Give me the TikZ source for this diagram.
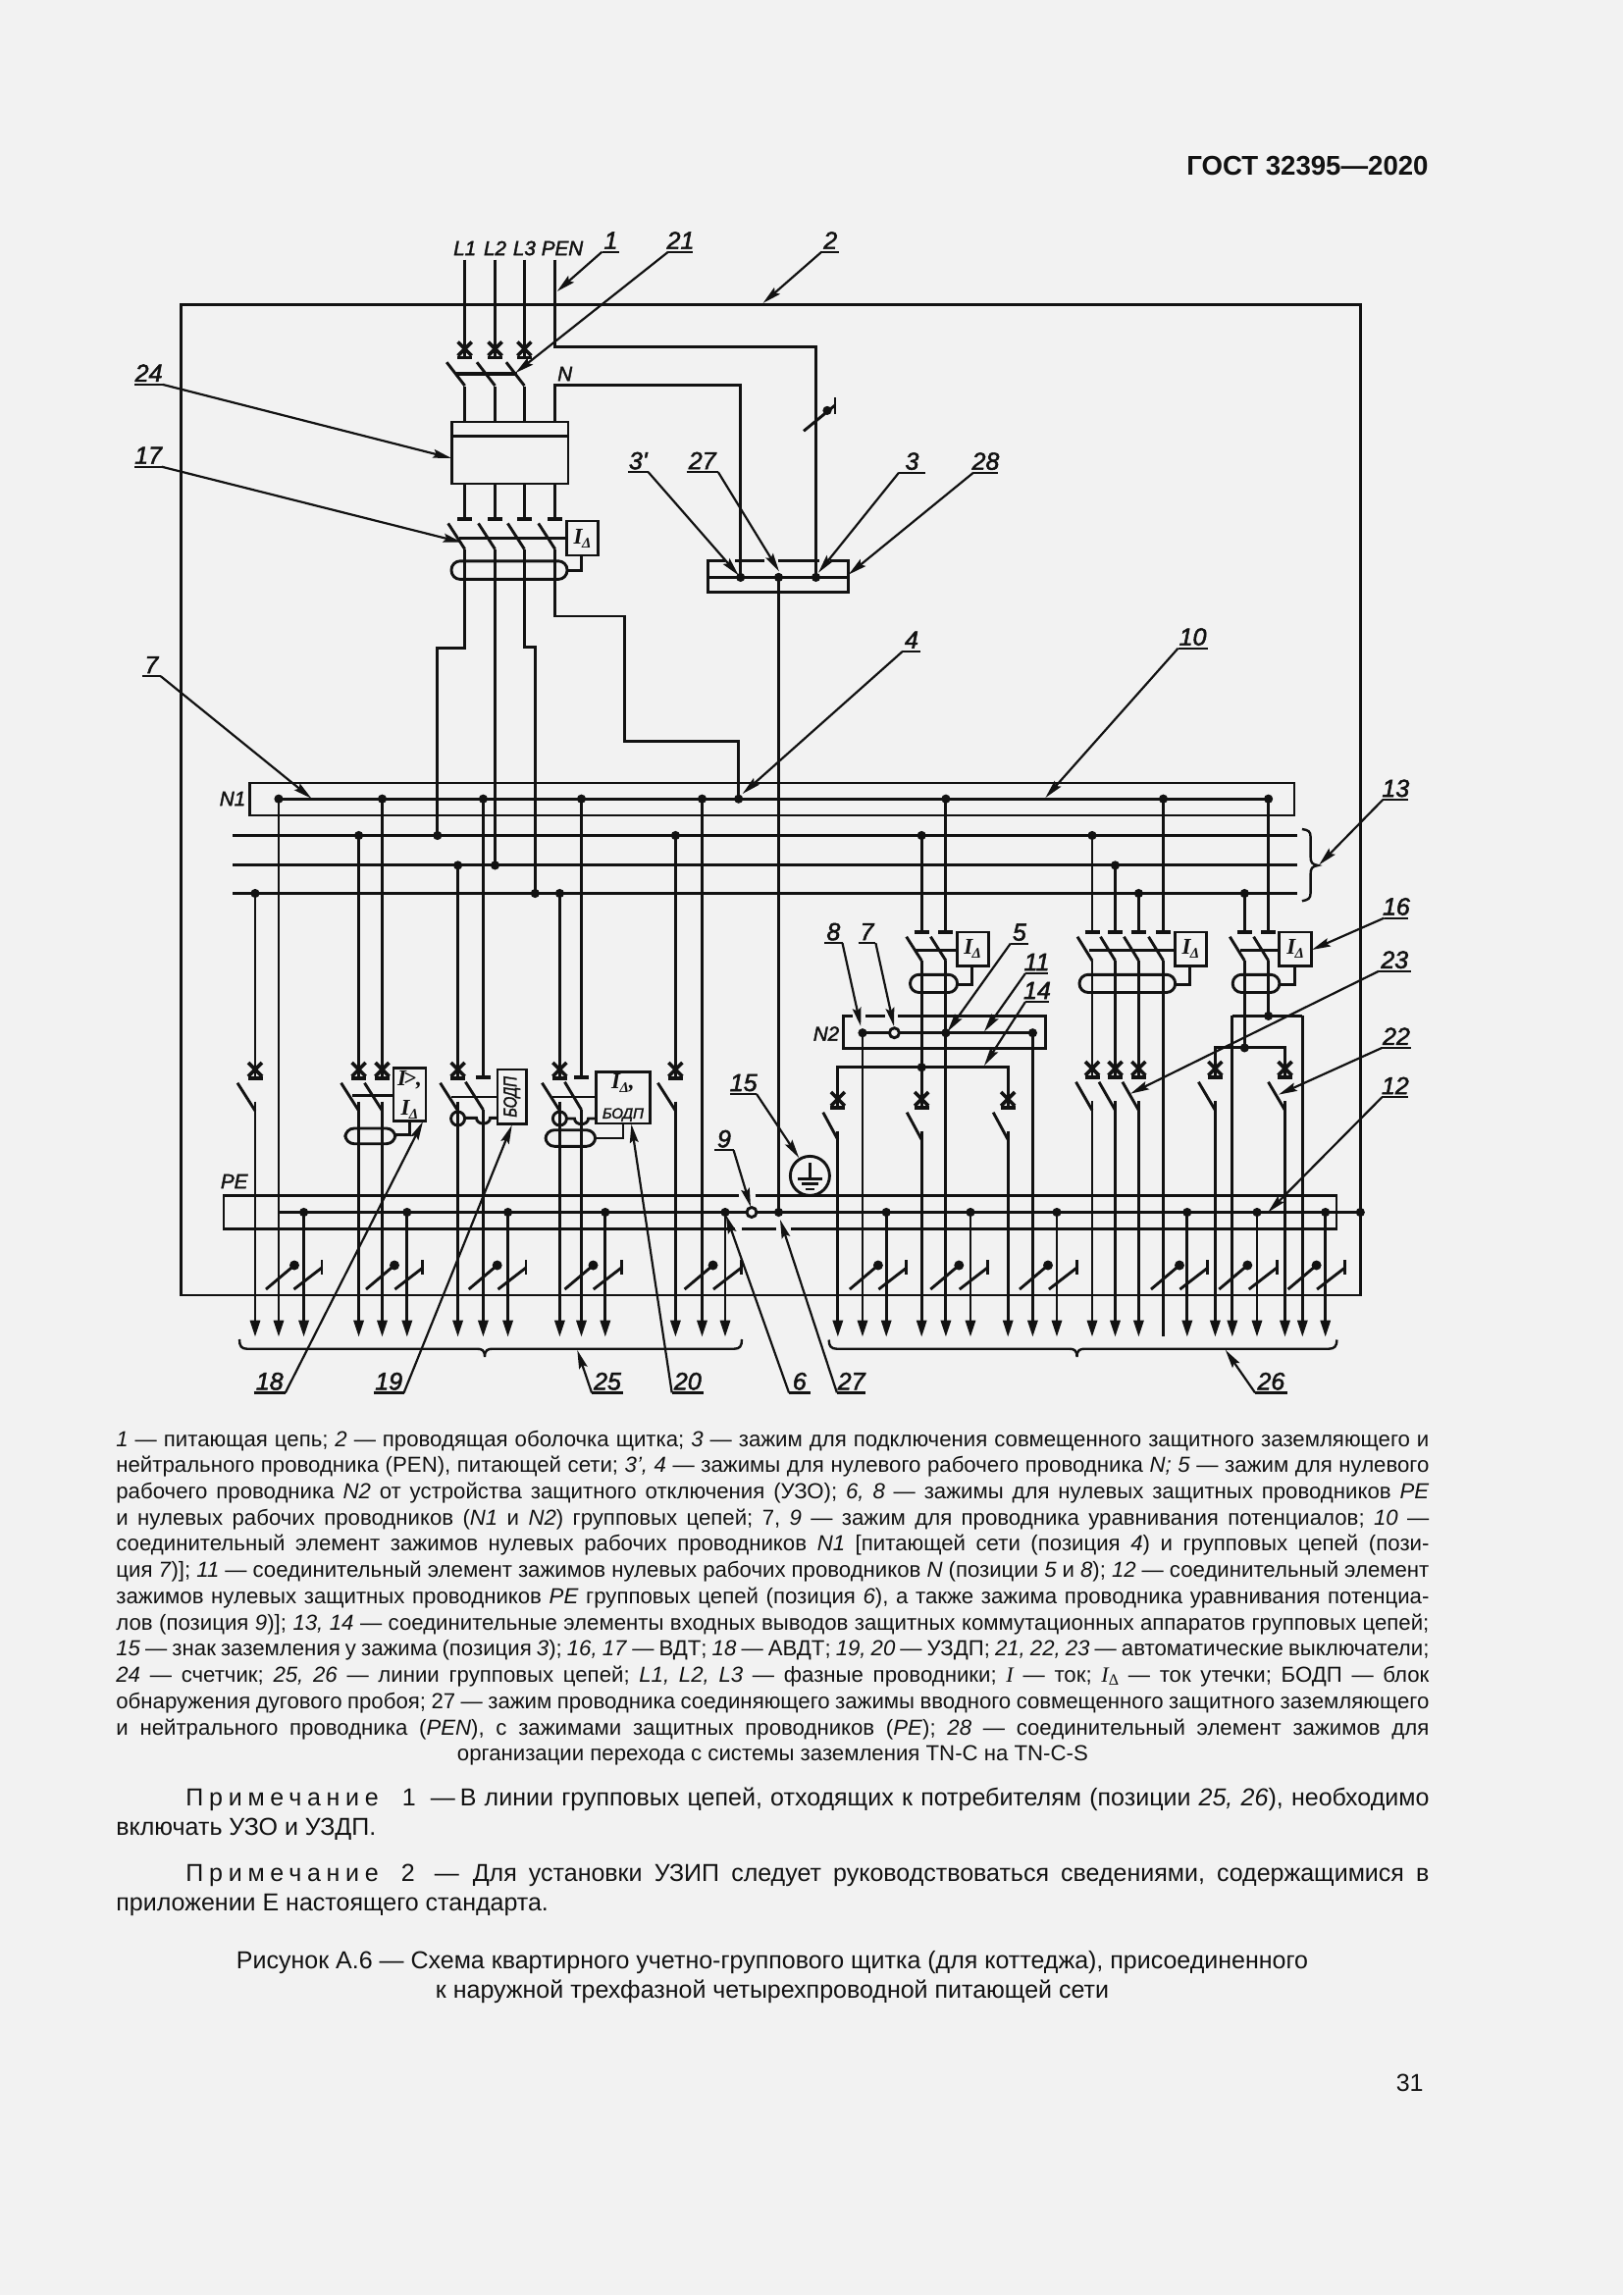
\documentclass[tikz,border=0pt]{standalone}
\usepackage{fontspec}
\usepackage{graphicx}
\usetikzlibrary{arrows.meta}
\setmainfont{Liberation Sans}
\newfontfamily\labbase[FakeBold=2]{Liberation Sans}
\newfontfamily\serfam{Liberation Serif}
\newcommand\labf{\labbase\itshape}
\definecolor{ink}{HTML}{121212}
\definecolor{paper}{HTML}{F2F2F2}
\newlength\tw \setlength\tw{669pt}
\newcommand\jl[1]{\hbox to \tw{\frenchspacing\spaceskip=0pt plus 1fil\xspaceskip=0pt plus 1fil #1}}
\newcommand\ti[1]{\textit{#1}}
\def\ytip{1362.7}
\tikzset{
 wire/.style={line width=1.45pt,color=ink},
 heavy/.style={line width=1.8pt,color=ink},
 leadline/.style={line width=1.1pt,color=ink},
 tipdown/.style={-{Triangle[length=8.5pt,width=5pt]}},
 leadtip/.style={-{Stealth[length=9.5pt,width=4.4pt,inset=1.5pt]}},
 numlab/.style={inner sep=0pt,anchor=base,font=\fontsize{12.5}{13}\labf,text=ink},
 wlab/.style={inner sep=0pt,font=\fontsize{10.3}{11}\labf,text=ink},
 devbox/.style={draw=ink,line width=1.45pt,inner sep=0pt,fill=paper,text=ink,align=center},
}
\newcommand\wdot[2]{\fill[ink] (#1,#2) circle[radius=4.6];}
\newcommand\tblade[4]{\draw[heavy] (#1-7.5,#2)--(#1+7.5,#2);\draw[wire] (#1-#4,#2+4.7)--(#1,#2+#3);}
\newcommand\cross[2]{\draw[heavy] (#1-7,#2-7)--(#1+7,#2+7);\draw[heavy] (#1+7,#2-7)--(#1-7,#2+7);}
\newcommand\xblade[4]{\cross{#1}{#2}\tblade{#1}{#2+9}{#3}{#4}}
\newcommand\wv[3]{\draw[wire] (#1,#2)--(#1,#3);}
\newcommand\wa[2]{\draw[wire,tipdown] (#1,#2)--(#1,\ytip);}
\newcommand\torus[4]{\draw[wire,rounded corners=4.5pt] (#1,#2) rectangle (#3,#4);}
\newcommand\pairmark[2]{%
 \draw[wire] (#1,1314)--(#1+29,1289.5);\fill[ink] (#1+29,1289.5) circle[radius=5];
 \draw[wire] (#2,1314)--(#2+28.5,1292);\draw[wire] (#2+28.5,1284)--(#2+28.5,1299);}
\newcommand\leader[8]{%
 \draw[leadline] (#3,#5)--(#4,#5);
 \draw[leadline,leadtip] (#6,#5)--(#7,#8);
 \node[numlab] (lab#1) at ({(#3+#4)/2},#5-3) {#2};}
\newcommand\dev[6]{\node[devbox,minimum width={(#4-#2)*0.5pt},minimum height={(#5-#3)*0.5pt}] (#1) at ({(#2+#4)/2},{(#3+#5)/2}) {#6};}
\newcommand\subdelta[1]{\lower2pt\hbox{\fontsize{#1}{#1}\serfam\bfseries Δ}}
\newcommand\idelta{\hbox{\fontsize{11.5}{11.5}\serfam\bfseries\itshape I\kern-0.3pt\subdelta{7.5}}}
\begin{document}
\begin{tikzpicture}[x=0.5pt,y=-0.5pt,line cap=butt,line join=miter]
\fill[paper] (0,0) rectangle (1654,2339);
\useasboundingbox (0,0) rectangle (1654,2339);
\node[inner sep=0pt,anchor=base east,text=ink,font=\fontsize{13.8}{14}\selectfont\bfseries] (hdr) at (1456,178) {ГОСТ 32395—2020};
\draw[wire] (184.5,310.4) rectangle (1386.3,1320);
\foreach \x/\t in {473.7/L1,504.5/L2,534.4/L3}{
 \node[wlab] (in\t) at (\x,253) {\t};
 \wv{\x}{264.6}{364}
 \xblade{\x}{355.5}{28.6}{18.5}
 \wv{\x}{394}{430}
}
\node[wlab] (inPEN) at (573,253) {PEN};
\draw[wire] (565.7,264.6)--(565.7,353.5)--(831.3,353.5)--(831.3,588.4);
\draw[heavy,line width=2.2pt] (464.7,380.8)--(527,380.8);
\node[wlab] (lN) at (575.7,381) {N};
\draw[wire] (565.7,430)--(565.7,392.7)--(754.7,392.7)--(754.7,588.4);
\draw[wire] (819,439.3)--(851,413);\draw[wire] (851,405)--(851,422);\wdot{843}{418.4}
\dev{meter}{460.2}{430}{579}{493}{}
\draw[wire] (meter.west |- 0,444.5)--(meter.east |- 0,444.5);
\foreach \x in {473.7,504.5,534.4,565.7}{\wv{\x}{493}{528.7}\tblade{\x}{528.7}{31}{17}}
\dev{rcdm}{577.6}{531}{609.5}{566}{\idelta}
\draw[wire] (468,548.5)--(rcdm.west |- 0,548.5);
\torus{460}{571.8}{578}{590.4}
\draw[wire] (592.6,566)--(592.6,581.7)--(578,581.7);
\draw[wire] (473.7,559.7)--(473.7,660.8)--(445.8,660.8)--(445.8,851.5);
\draw[wire] (504.5,559.7)--(504.5,881.9);
\draw[wire] (534.4,559.7)--(534.4,659.6)--(545.3,659.6)--(545.3,910.5);
\draw[wire] (565.7,559.7)--(565.7,628)--(636.4,628)--(636.4,755.7)--(752.7,755.7)--(752.7,813.8);
\draw[wire] (739.3,571.8)--(721.4,571.8)--(721.4,603.8)--(864.7,603.8)--(864.7,571.8)--(846.3,571.8);
\draw[wire] (749.3,571.8)--(779.1,571.8);\draw[wire] (792.6,571.8)--(834.8,571.8);
\draw[wire] (721.4,588.4)--(864.7,588.4);
\foreach \x in {754.7,793.5,831.5}{\wdot{\x}{588.4}}
\wv{793.5}{588.4}{1235.5}
\draw[wire] (254.3,798) rectangle (1319,831);
\node[wlab] (lN1) at (237,814) {N1};
\draw[wire] (284,814.2)--(1292.6,814.2);
\foreach \x in {284,389.5,492.4,592.5,715.5,752.7,963.9,1185.5,1292.6}{\wdot{\x}{814.2}}
\foreach \y in {851.5,881.9,910.5}{\draw[wire] (237,\y)--(1321.7,\y);}
\foreach \x in {365.6,445.8,688.4,939.2,1113}{\wdot{\x}{851.5}}
\foreach \x in {466.6,504.5,1136.5}{\wdot{\x}{881.9}}
\foreach \x in {260,545.3,570.4,1160.4,1268.3}{\wdot{\x}{910.5}}
\draw[wire,line width=1.2pt] (1326.9,845)..controls (1333,846) and (1335.6,847)..(1335.6,853)--(1335.6,873)..controls (1335.6,879) and (1337,881)..(1343,882)..controls (1337,883) and (1335.6,885)..(1335.6,891)--(1335.6,910)..controls (1335.6,916) and (1333,917)..(1326.9,918.3);
\draw[wire] (752.6,1218.3)--(228,1218.3)--(228,1252.5)--(749,1252.5);
\draw[wire] (756,1252.5)--(791,1252.5);
\draw[wire] (769.7,1218.3)--(1362,1218.3)--(1362,1252.5)--(806,1252.5);
\node[wlab] (lPE) at (238.7,1204) {PE};
\draw[wire] (284,1235.5)--(1386.3,1235.5);
\foreach \x in {309.6,414.8,517.6,616.8,739,793.5,903.2,989,1077,1209.8,1281,1350.7,1386.3}{\wdot{\x}{1235.5}}
\draw[wire,fill=paper] (766,1235.5) circle[radius=5];
\foreach \x in {309.6,414.8,517.6,616.8,739,903.2,989,1077,1209.8,1281,1350.7}{\wa{\x}{1235.5}}
\wv{260}{910.5}{1098.5}\xblade{260}{1090}{33}{18}\wa{260}{1122.5}
\wa{284}{814.2}
\wv{365.6}{851.5}{1098.5}\xblade{365.6}{1090}{33}{18}\wa{365.6}{1122.5}
\wv{389.5}{814.2}{1098.5}\xblade{389.5}{1090}{33}{18}\wa{389.5}{1122.5}
\dev{b18}{401}{1088.7}{434}{1142.3}{\hbox{\fontsize{11.5}{11.5}\serfam\bfseries\itshape I\kern-1.5pt>,}\\[3pt]\idelta}
\draw[wire] (358.8,1116.7)--(b18.west |- 0,1116.7);
\torus{351.9}{1150}{402.8}{1165.7}
\draw[wire] (417.5,1142.3)--(417.5,1156.7)--(402.8,1156.7);
\wv{466.6}{881.9}{1098.5}\xblade{466.6}{1090}{33}{18}\wa{466.6}{1122.5}
\wv{492.4}{814.2}{1098}\tblade{492.4}{1098}{33}{18}\wa{492.4}{1131}
\dev{b19}{507}{1090}{536.4}{1145.7}{\rotatebox{90}{\scalebox{0.78}[1]{\fontsize{9.5}{10}\labf БОДП}}}
\draw[wire] (459.8,1118)--(b19.west |- 0,1118);
\draw[wire] (466.6,1140) circle[radius=7];
\draw[wire] (473.6,1139.3)--(485.5,1139.3)..controls (485.5,1147) and (499.5,1147)..(499.5,1139.3)--(507,1139.3);
\wv{570.4}{910.5}{1098.5}\xblade{570.4}{1090}{33}{18}\wa{570.4}{1122.5}
\wv{592.5}{814.2}{1098}\tblade{592.5}{1098}{33}{17}\wa{592.5}{1131}
\dev{b20}{607.6}{1092.7}{662.2}{1145}{\hbox{\idelta\fontsize{11.5}{11.5}\serfam\bfseries\itshape ,}\\[3pt]{\fontsize{7.5}{8}\labf БОДП}}
\draw[wire] (563,1118)--(b20.west |- 0,1118);
\draw[wire] (570.4,1140) circle[radius=7];
\draw[wire] (577.4,1140)--(585.5,1140)..controls (585.5,1147.5) and (599.5,1147.5)..(599.5,1140)--(607.6,1140);
\torus{556}{1151.7}{606.7}{1168.3}
\draw[wire] (635,1145)--(635,1160)--(606.7,1160);
\wv{688.4}{851.5}{1098.5}\xblade{688.4}{1090}{33}{18}\wa{688.4}{1122.5}
\wa{715.5}{814.2}
\draw[wire,fill=paper] (825.4,1198.4) circle[radius=20];
\draw[wire] (825.4,1185)--(825.4,1201.5);
\draw[wire] (813,1201.5)--(838,1201.5);\draw[wire] (817.3,1206.7)--(833.8,1206.7);\draw[wire] (820.8,1212)--(829.5,1212);
\draw[wire] (869.4,1035.8)--(859.8,1035.8)--(859.8,1068.8)--(1065.8,1068.8)--(1065.8,1035.8)--(914.9,1035.8);
\draw[wire] (882.4,1035.8)--(901.9,1035.8);
\node[wlab] (lN2) at (842,1053.5) {N2};
\draw[wire] (879,1052.7)--(1052.4,1052.7);
\foreach \x in {879,963.9,1052.4}{\wdot{\x}{1052.7}}
\draw[wire,fill=paper] (911.4,1052.7) circle[radius=5];
\wa{879}{1052.7}\wa{1052.4}{1052.7}
\wv{939.2}{851.5}{950}\wv{963.9}{814.2}{950}
\tblade{939.2}{950}{29}{15.5}\tblade{963.9}{950}{29}{15.5}
\dev{bA}{975.2}{950}{1007.3}{984.6}{\idelta}
\draw[wire] (932.3,968.6)--(bA.west |- 0,968.6);
\torus{927.5}{993.3}{975.6}{1011.5}
\draw[wire] (990.8,984.6)--(990.8,1003.7)--(975.6,1003.7);
\wv{939.2}{979}{1087.8}\wa{963.9}{979}
\wdot{939.2}{1087.8}
\draw[wire] (853.8,1128.5)--(853.8,1087.8)--(1027.2,1087.8)--(1027.2,1128.5);
\wv{939.2}{1087.8}{1128.5}
\foreach \x in {853.8,939.2,1027.2}{\xblade{\x}{1120}{32.5}{15}\wa{\x}{1152.5}}
\wv{1113}{851.5}{950}\wv{1136.5}{881.9}{950}\wv{1160.4}{910.5}{950}\wv{1185.5}{814.2}{950}
\foreach \x in {1113,1136.5,1160.4,1185.5}{\tblade{\x}{950}{29}{15}}
\dev{bB}{1197.7}{950}{1229.3}{984.6}{\idelta}
\draw[wire] (1110,968.6)--(bB.west |- 0,968.6);
\torus{1100}{993.3}{1197.7}{1011.5}
\draw[wire] (1212.8,984.6)--(1212.8,1003.7)--(1197.7,1003.7);
\foreach \x in {1113,1136.5,1160.4}{\wv{\x}{979}{1097.5}\xblade{\x}{1089}{33.5}{16.5}\wa{\x}{1122}}
\wv{1185.5}{979}{1362}
\wv{1268.3}{910.5}{950}\wv{1292.6}{814.2}{950}
\foreach \x in {1268.3,1292.6}{\tblade{\x}{950}{29}{15}}
\dev{bC}{1303.9}{950}{1336.4}{984.6}{\idelta}
\draw[wire] (1264,968.6)--(bC.west |- 0,968.6);
\torus{1256.2}{993.3}{1303.9}{1011.5}
\draw[wire] (1319.5,984.6)--(1319.5,1003.7)--(1303.9,1003.7);
\wv{1268.3}{979}{1067.9}\wv{1292.6}{979}{1035.4}
\wdot{1292.6}{1035.4}\wdot{1268.3}{1067.9}
\draw[wire] (1255.8,1035.4)--(1327.3,1035.4);
\wa{1327.3}{1035.4}\wa{1255.8}{1035.4}
\draw[wire] (1238.4,1097.5)--(1238.4,1067.9)--(1309.5,1067.9)--(1309.5,1097.5);
\foreach \x in {1238.4,1309.5}{\xblade{\x}{1089}{33.5}{17}\wa{\x}{1122}}
\pairmark{271}{299.5}\pairmark{373}{402.4}\pairmark{477.7}{507.5}\pairmark{575.5}{604.8}\pairmark{697.6}{727}
\pairmark{865.9}{895.4}\pairmark{948.3}{977.8}\pairmark{1039}{1068.9}\pairmark{1173}{1202.4}\pairmark{1242.3}{1272.7}\pairmark{1312.6}{1342.1}
\draw[wire,line width=1.2pt] (244,1365)..controls (244,1372) and (246,1374.7)..(252,1374.7)--(486,1374.7)..controls (491,1374.7) and (494,1376)..(494,1383)..controls (494,1376) and (497,1374.7)..(502,1374.7)--(748,1374.7)..controls (754,1374.7) and (756,1372)..(756,1365);
\draw[wire,line width=1.2pt] (844.7,1365.5)..controls (844.7,1372) and (847,1374.7)..(853,1374.7)--(1089.5,1374.7)..controls (1094.5,1374.7) and (1097.5,1376)..(1097.5,1383)..controls (1097.5,1376) and (1100.5,1374.7)..(1105.5,1374.7)--(1354,1374.7)..controls (1360,1374.7) and (1362.4,1372)..(1362.4,1365.5);
\leader{a}{1}{613.5}{631.4}{256.7}{613.5}{567.7}{297}
\leader{b}{21}{681}{706}{256.7}{681}{525.4}{380}
\leader{c}{2}{837.3}{855.2}{256.7}{837.3}{777.6}{308.9}
\leader{d}{24}{137.4}{165.8}{391.9}{165.8}{460.2}{467}
\leader{e}{17}{137.4}{164.8}{475.7}{164.8}{470.7}{552.8}
\leader{f}{7}{144.9}{163.8}{689.2}{163.8}{317.5}{813.8}
\leader{g}{3'}{639.8}{660.7}{481.2}{660.7}{752.7}{586.4}
\leader{h}{27}{699.5}{731.9}{481.2}{731.9}{794}{582.5}
\leader{i}{3}{916}{943}{481.7}{916}{834}{583.7}
\leader{j}{28}{992}{1017}{481.7}{992}{864.7}{585.6}
\leader{k}{4}{920}{938}{663.7}{920}{756.7}{809}
\leader{l}{10}{1200.6}{1230.5}{660.7}{1200.6}{1065.4}{813}
\leader{m}{13}{1409.3}{1435.3}{815}{1409.3}{1344.2}{881.4}
\leader{n}{16}{1410.6}{1435.3}{935.6}{1410.6}{1336.9}{968}
\leader{o}{23}{1405}{1437.5}{989.8}{1405}{1152}{1114.7}
\leader{p}{22}{1408.4}{1437.5}{1067.9}{1408.4}{1303}{1115.6}
\leader{q}{12}{1408.4}{1435.3}{1118.2}{1408.4}{1292.2}{1235.5}
\leader{r}{5}{1029.8}{1048}{961.6}{1029.8}{965.6}{1051.4}
\leader{s}{11}{1045}{1068}{992}{1045}{1003}{1051.4}
\leader{t}{14}{1045}{1068.9}{1021}{1045}{1003}{1086}
\leader{u}{8}{840.3}{858.5}{961.2}{858.5}{877.2}{1046}
\leader{v}{7}{874.6}{892.4}{961.2}{892.4}{911}{1046}
\leader{w}{15}{744.4}{771}{1115}{771}{814.2}{1180}
\leader{x}{9}{728.3}{747.6}{1172.3}{747.6}{765}{1230}
\leader{y}{18}{258.7}{290.8}{1419.4}{290.8}{431}{1143}
\leader{z}{19}{380.8}{411.6}{1419.4}{411.6}{521.7}{1146.7}
\leader{aa}{25}{603}{635}{1419.4}{603}{588.3}{1376}
\leader{ab}{20}{684.7}{716.9}{1419.4}{684.7}{643.4}{1145.7}
\leader{ac}{6}{804}{825.7}{1419.4}{804}{739.8}{1238.3}
\leader{ad}{27}{852.9}{882.4}{1419.4}{852.9}{795}{1243}
\leader{ae}{26}{1279}{1311.7}{1419.4}{1279}{1248.8}{1375.8}
\node[inner sep=0pt,anchor=base west,text=ink,font=\fontsize{11.1}{13.37}\selectfont] (legend) at (118,1474) {\vtop{\hsize=\tw\baselineskip=13.37pt\lineskiplimit=-20pt
\jl{\ti{1} — питающая цепь; \ti{2} — проводящая оболочка щитка; \ti{3} — зажим для подключения совмещенного защитного заземляющего и}
\jl{нейтрального проводника (PEN), питающей сети; \ti{3', 4} — зажимы для нулевого рабочего проводника \ti{N; 5} — зажим для нулевого}
\jl{рабочего проводника \ti{N2} от устройства защитного отключения (УЗО); \ti{6, 8} — зажимы для нулевых защитных проводников \ti{PE}}
\jl{и нулевых рабочих проводников (\ti{N1} и \ti{N2}) групповых цепей; 7, \ti{9} — зажим для проводника уравнивания потенциалов; \ti{10} —}
\jl{соединительный элемент зажимов нулевых рабочих проводников \ti{N1} [питающей сети (позиция \ti{4}) и групповых цепей (пози-}
\jl{ция \ti{7})]; \ti{11} — соединительный элемент зажимов нулевых рабочих проводников \ti{N} (позиции \ti{5} и \ti{8}); \ti{12} — соединительный элемент}
\jl{зажимов нулевых защитных проводников \ti{PE} групповых цепей (позиция \ti{6}), а также зажима проводника уравнивания потенциа-}
\jl{лов (позиция \ti{9})]; \ti{13, 14} — соединительные элементы входных выводов защитных коммутационных аппаратов групповых цепей;}
\jl{\ti{15} — знак заземления у зажима (позиция \ti{3}); \ti{16, 17} — ВДТ; \ti{18} — АВДТ; \ti{19, 20} — УЗДП; \ti{21, 22, 23} — автоматические выключатели;}
\jl{\ti{24} — счетчик; \ti{25, 26} — линии групповых цепей; \ti{L1, L2, L3} — фазные проводники; {\serfam\itshape I} — ток; {\serfam\itshape I}\lower1.5pt\hbox{\fontsize{8}{8}\serfam Δ} — ток утечки; БОДП — блок}
\jl{обнаружения дугового пробоя; 27 — зажим проводника соединяющего зажимы вводного совмещенного защитного заземляющего}
\jl{и нейтрального проводника (\ti{PEN}), с зажимами защитных проводников (\ti{PE}); \ti{28} — соединительный элемент зажимов для}
\hbox to \tw{\hfil организации перехода с системы заземления TN-C на TN-C-S\hfil}
}};
\node[inner sep=0pt,anchor=base west,text=ink,font=\fontsize{12.5}{15}\selectfont] (note1) at (118,1840) {\vtop{\hsize=\tw\baselineskip=15pt\lineskiplimit=-20pt
\jl{\hskip35.5pt{\addfontfeature{LetterSpace=23}Примечание}\kern12pt 1\kern7.5pt —\kern2.5pt В линии групповых цепей, отходящих к потребителям (позиции \ti{25, 26}), необходимо}
\hbox{включать УЗО и УЗДП.}
}};
\node[inner sep=0pt,anchor=base west,text=ink,font=\fontsize{12.5}{15}\selectfont] (note2) at (118,1917) {\vtop{\hsize=\tw\baselineskip=15pt\lineskiplimit=-20pt
\jl{\hskip35.5pt{\addfontfeature{LetterSpace=23}Примечание}\kern11.5pt 2\kern10pt —\kern7pt Для установки УЗИП следует руководствоваться сведениями, содержащимися в}
\hbox{приложении Е настоящего стандарта.}
}};
\node[inner sep=0pt,anchor=base,text=ink,font=\fontsize{12.5}{15}\selectfont,align=center] (cap) at (787,2036) {Рисунок А.6 — Схема квартирного учетно-группового щитка (для коттеджа), присоединенного\\к наружной трехфазной четырехпроводной питающей сети};
\node[inner sep=0pt,anchor=base east,text=ink,font=\fontsize{12.5}{15}\selectfont] (pg) at (1451,2131) {31};
\end{tikzpicture}
\end{document}
